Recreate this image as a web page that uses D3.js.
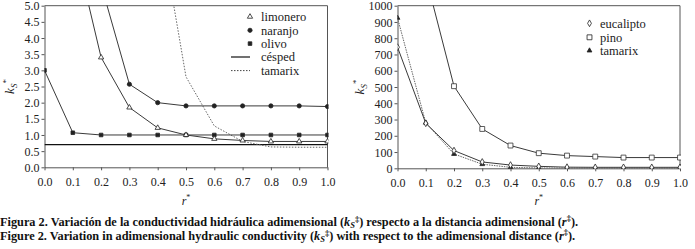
<!DOCTYPE html>
<html><head><meta charset="utf-8">
<script src="https://cdn.jsdelivr.net/npm/d3@7"></script>
</head>
<body style="margin:0;background:#fff">
<svg id="c" width="695" height="249" style="display:block;background:#fff"></svg>
<script>
// ---------- data ----------
const rValues = [0, 0.1, 0.2, 0.3, 0.4, 0.5, 0.6, 0.7, 0.8, 0.9, 1.0];
const xTicks = [0, 0.1, 0.2, 0.3, 0.4, 0.5, 0.6, 0.7, 0.8, 0.9, 1.0];
const yTicksLeft = [0, 0.5, 1, 1.5, 2, 2.5, 3, 3.5, 4, 4.5, 5];
const yTicksRight = [0, 100, 200, 300, 400, 500, 600, 700, 800, 900, 1000];

// left panel
const limonero = [null, 7.1, 3.4, 1.85, 1.22, 1.0, 0.88, 0.83, 0.8, 0.8, 0.8];
const naranjo  = [null, null, 5.65, 2.57, 2.0, 1.9, 1.9, 1.9, 1.9, 1.9, 1.88];
const olivo    = [3.0, 1.07, 1.0, 1.0, 1.0, 1.0, 1.0, 1.0, 1.0, 1.0, 1.0];
const cesped   = [0.7, 0.7, 0.7, 0.7, 0.7, 0.7, 0.7, 0.7, 0.7, 0.7, 0.7];
const tamarixL = [null, null, null, null, 7.9, 2.8, 1.28, 0.8, 0.63, 0.62, 0.62];

// right panel
const eucalipto = [745, 277, 109, 39, 20, 12, 7, 6, 6, 6, 6];
const pino      = [null, 1180, 505, 242, 140, 93, 78, 72, 66, 66, 66];
const tamarixR  = [925, 280, 88, 25, 6, 2, 1, 1, 1, 1, 1];

const legendLeft = ["limonero", "naranjo", "olivo", "césped", "tamarix"];
const legendRight = ["eucalipto", "pino", "tamarix"];

const caption1 = "Figura 2. Variación de la conductividad hidráulica adimensional (";
const caption2 = "Figure 2. Variation in adimensional hydraulic conductivity (";

// ---------- drawing ----------
const FONT = '"Liberation Serif", "Times New Roman", Tinos, serif';
const svg = d3.select("#c");
const LINE = "#3a3a3a", TXT = "#222";

function panel(opt) {
  const x = d3.scaleLinear().domain([0, 1]).range(opt.xr);
  const y = d3.scaleLinear().domain(opt.yd).range(opt.yr);
  const g = svg.append("g");
  const cid = "clip" + opt.id;
  svg.append("clipPath").attr("id", cid).append("rect")
    .attr("x", opt.xr[0]).attr("y", opt.yr[1] - 0.5)
    .attr("width", opt.xr[1] - opt.xr[0] + 1).attr("height", opt.yr[0] - opt.yr[1] + 1);

  g.append("path").attr("d", `M${opt.xr[0]},${opt.yr[1]}H${opt.xr[1]}V${opt.yr[0]}`)
    .attr("fill", "none").attr("stroke", "#555").attr("stroke-width", 1);

  const ax = g.append("g").attr("transform", `translate(0,${opt.yr[0]})`)
    .call(d3.axisBottom(x).tickValues(xTicks).tickSize(3).tickSizeOuter(0).tickFormat(d3.format(".1f")));
  const ay = g.append("g").attr("transform", `translate(${opt.xr[0]},0)`)
    .call(d3.axisLeft(y).tickValues(opt.yTicks).tickSize(3).tickSizeOuter(0).tickFormat(opt.fmt));
  [ax, ay].forEach(a => {
    a.attr("font-family", null).attr("font-size", null);
    a.select(".domain").attr("stroke", "#555");
    a.selectAll(".tick line").attr("stroke", "#555");
    a.selectAll("text").attr("fill", TXT).style("font-family", FONT).style("font-size", "12px");
  });
  ax.selectAll("text").attr("dy", "1.05em");
  ay.selectAll("text").attr("x", -5).attr("dy", "0.34em");

  const xt = g.append("text").attr("x", (opt.xr[0] + opt.xr[1]) / 2).attr("y", 205)
    .attr("text-anchor", "middle").style("font-family", FONT).style("font-size", "12px").attr("fill", TXT);
  xt.append("tspan").attr("font-style", "italic").text("r");
  xt.append("tspan").style("font-size", "8px").attr("dy", -5).text("*");
  const yt = g.append("text").attr("transform", `translate(${opt.ytx},${(opt.yr[0] + opt.yr[1]) / 2}) rotate(-90)`)
    .attr("text-anchor", "middle").style("font-family", FONT).style("font-size", "13px").attr("fill", TXT);
  yt.append("tspan").attr("font-style", "italic").text("k");
  yt.append("tspan").attr("font-style", "italic").style("font-size", "9px").attr("dy", 3).text("S");
  yt.append("tspan").style("font-size", "9px").attr("dy", -8).text("*");

  const plot = g.append("g").attr("clip-path", `url(#${cid})`);
  return {x, y, plot, g};
}

function series(p, vals, opts) {
  const pts = rValues.map((r, i) => ({r, v: vals[i]})).filter(d => d.v != null);
  const line = d3.line().x(d => p.x(d.r)).y(d => p.y(d.v));
  p.plot.append("path").datum(pts).attr("d", line).attr("fill", "none")
    .attr("stroke", opts.stroke || LINE).attr("stroke-width", opts.sw || 1)
    .attr("stroke-dasharray", opts.dash || null);
  if (opts.marker) {
    const dom = p.y.domain();
    const inside = pts.filter(d => d.v >= dom[0] && d.v <= dom[1]);
    p.plot.selectAll(null).data(inside).enter().append("path")
      .attr("transform", d => `translate(${p.x(d.r)},${p.y(d.v)})`)
      .attr("d", d3.symbol().type(opts.marker).size(opts.size))
      .attr("fill", opts.fill).attr("stroke", opts.mstroke || "#222").attr("stroke-width", 0.8);
  }
}

function legendMarker(x, y, type, size, fill) {
  svg.append("path").attr("transform", `translate(${x},${y})`)
    .attr("d", d3.symbol().type(type).size(size)).attr("fill", fill)
    .attr("stroke", "#222").attr("stroke-width", 0.8);
}
function legendText(x, y, t) {
  svg.append("text").attr("x", x).attr("y", y).attr("dy", "0.35em")
    .style("font-family", FONT).style("font-size", "12.5px").attr("fill", TXT).text(t);
}

// Left panel
const L = panel({id: "L", xr: [44.5, 327.5], yd: [0, 5], yr: [167.3, 5.7], yTicks: yTicksLeft,
  fmt: d3.format(".1f"), ytx: 14});
series(L, cesped, {sw: 1.2, stroke: "#111"});
series(L, tamarixL, {stroke: "#666", dash: "1.5,1.5"});
series(L, olivo, {marker: d3.symbolSquare, size: 13, fill: "#222"});
series(L, limonero, {marker: d3.symbolTriangle, size: 12, fill: "#fff"});
series(L, naranjo, {marker: d3.symbolCircle, size: 14, fill: "#222"});

const lly = [16.7, 30.3, 43.6, 57, 70.6];
legendMarker(250, lly[0], d3.symbolTriangle, 12, "#fff");
legendMarker(250, lly[1], d3.symbolCircle, 14, "#222");
legendMarker(250, lly[2], d3.symbolSquare, 13, "#222");
svg.append("line").attr("x1", 231).attr("x2", 250).attr("y1", lly[3]).attr("y2", lly[3]).attr("stroke", "#111").attr("stroke-width", 1.2);
svg.append("line").attr("x1", 231).attr("x2", 250).attr("y1", lly[4]).attr("y2", lly[4]).attr("stroke", "#444").attr("stroke-dasharray", "1.5,1.5");
legendLeft.forEach((t, i) => legendText(261, lly[i], t));

// Right panel
const R = panel({id: "R", xr: [397.5, 680], yd: [0, 1000], yr: [168.3, 5.7], yTicks: yTicksRight,
  fmt: d3.format("d"), ytx: 364});
series(R, tamarixR, {stroke: "#666", dash: "1.5,1", marker: d3.symbolTriangle, size: 10, fill: "#222"});
series(R, eucalipto, {marker: d3.symbolDiamond, size: 13, fill: "#fff"});
series(R, pino, {marker: d3.symbolSquare, size: 24, fill: "#fff", mstroke: "#333"});

const rly = [23.3, 37.3, 50.6];
legendMarker(589.5, rly[0], d3.symbolDiamond, 13, "#fff");
legendMarker(589.5, rly[1], d3.symbolSquare, 24, "#fff");
legendMarker(589.5, rly[2], d3.symbolTriangle, 10, "#222");
legendRight.forEach((t, i) => legendText(600, rly[i], t));

// Caption
function caption(y, start, mid, end) {
  const t = svg.append("text").attr("x", 0).attr("y", y)
    .style("font-family", FONT).style("font-size", "12.3px").style("font-weight", "bold").attr("fill", "#111");
  t.append("tspan").text(start);
  t.append("tspan").attr("font-style", "italic").text("k");
  t.append("tspan").attr("font-style", "italic").style("font-size", "8.5px").attr("dy", 2).text("S");
  t.append("tspan").style("font-size", "8.5px").attr("dy", -6).text("‡");
  t.append("tspan").attr("dy", 4).text(mid + " (");
  t.append("tspan").attr("font-style", "italic").text("r");
  t.append("tspan").style("font-size", "8.5px").attr("dy", -5).text("‡");
  t.append("tspan").attr("dy", 5).text(end);
}
caption(225.5, caption1, ") respecto a la distancia adimensional", ").");
caption(240, caption2, ") with respect to the adimensional distance", ").");
</script></body></html>
